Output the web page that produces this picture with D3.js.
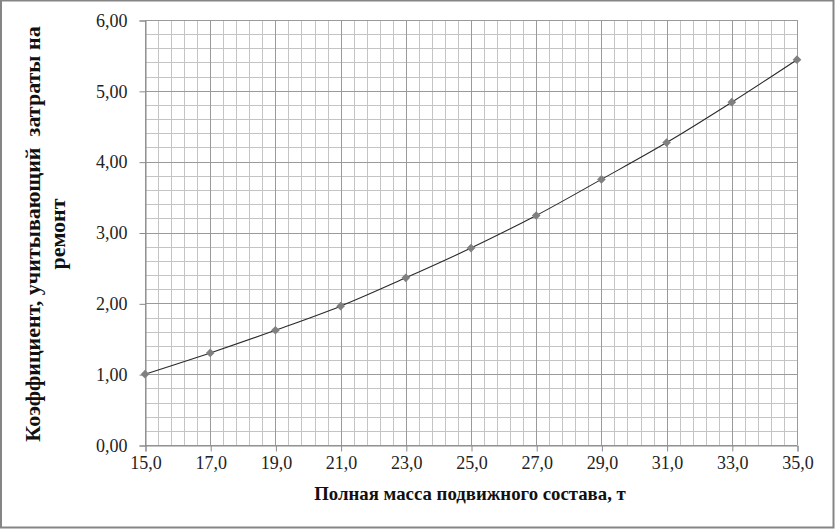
<!DOCTYPE html>
<html><head><meta charset="utf-8">
<script src="https://cdn.jsdelivr.net/npm/d3@7"></script>
<style>body{margin:0;background:#fff}svg{display:block}</style>
</head><body>
<svg id="c" width="835" height="529"></svg>
<script>
const masses = [15, 17, 19, 21, 23, 25, 27, 29, 31, 33, 35];
const coefficients = [1.00, 1.30, 1.62, 1.96, 2.36, 2.78, 3.24, 3.75, 4.27, 4.84, 5.44];
const xTickValues = [15, 17, 19, 21, 23, 25, 27, 29, 31, 33, 35];
const yTickValues = [0, 1, 2, 3, 4, 5, 6];
const xTitle = "Полная масса подвижного состава, т";
const yTitleLines = ["Коэффициент, учитывающий  затраты на", "ремонт"];

const FONT = '"Liberation Serif"';
const svg = d3.select("#c");
const L = 145, R = 797, T = 20, B = 445;
const x = d3.scaleLinear().domain([15, 35]).range([L, R]);
const y = d3.scaleLinear().domain([0, 6]).range([B, T]);
const fmtX = v => d3.format(".1f")(v).replace(".", ",");
const fmtY = v => d3.format(".2f")(v).replace(".", ",");

svg.append("rect").attr("x", 1).attr("y", 0.5).attr("width", 832.5).attr("height", 527)
  .attr("fill", "#fff").attr("stroke", "#858585").attr("stroke-width", 2);

const xMinor = d3.range(15, 35.001, 0.4);
const yMinor = d3.range(0, 6.001, 0.2);
const g = svg.append("g");
g.selectAll(".vx").data(xMinor).join("line")
  .attr("x1", d => Math.round(x(d)) + 0.5).attr("x2", d => Math.round(x(d)) + 0.5)
  .attr("y1", T).attr("y2", B).attr("stroke", "#c4c4c4").attr("stroke-width", 1);
g.selectAll(".hy").data(yMinor).join("line")
  .attr("y1", d => Math.round(y(d)) + 0.5).attr("y2", d => Math.round(y(d)) + 0.5)
  .attr("x1", L).attr("x2", R).attr("stroke", "#c4c4c4").attr("stroke-width", 1);
g.selectAll(".VX").data(xTickValues).join("line")
  .attr("x1", d => Math.round(x(d)) + 0.5).attr("x2", d => Math.round(x(d)) + 0.5)
  .attr("y1", T).attr("y2", B).attr("stroke", "#9a9a9a").attr("stroke-width", 1);
g.selectAll(".HY").data(yTickValues).join("line")
  .attr("y1", d => Math.round(y(d)) + 0.5).attr("y2", d => Math.round(y(d)) + 0.5)
  .attr("x1", L).attr("x2", R).attr("stroke", "#9a9a9a").attr("stroke-width", 1);

const xAxis = svg.append("g").attr("transform", `translate(0.5,${B + 0.5})`)
  .call(d3.axisBottom(x).tickValues(xTickValues).tickFormat(fmtX).tickSize(6).tickPadding(5));
const yAxis = svg.append("g").attr("transform", `translate(${L + 0.5},0.5)`)
  .call(d3.axisLeft(y).tickValues(yTickValues).tickFormat(fmtY).tickSize(6).tickPadding(12));
[xAxis, yAxis].forEach(a => {
  a.attr("font-family", null).attr("font-size", null);
  a.selectAll("path").attr("stroke", "#8a8a8a");
  a.selectAll("line").attr("stroke", "#8a8a8a");
  a.selectAll("text").style("font-family", FONT).style("font-size", "18px").attr("fill", "#222");
});

const pts = masses.map((m, i) => [m, coefficients[i]]);
svg.append("path").datum(pts)
  .attr("d", d3.line().x(d => x(d[0])).y(d => y(d[1])).curve(d3.curveCatmullRom))
  .attr("fill", "none").attr("stroke", "#2a2a2a").attr("stroke-width", 1.1);
svg.selectAll(".pt").data(pts).join("path")
  .attr("transform", d => `translate(${x(d[0])},${y(d[1])})`)
  .attr("d", d3.symbol(d3.symbolDiamond2, 48))
  .attr("fill", "#808080");

svg.append("text").attr("x", 470).attr("y", 500).attr("text-anchor", "middle")
  .style("font-family", FONT).style("font-weight", "bold").style("font-size", "18.8px")
  .attr("fill", "#111").text(xTitle);
const yt = svg.append("text").attr("transform", "translate(40,234) rotate(-90)")
  .attr("text-anchor", "middle")
  .style("font-family", FONT).style("font-weight", "bold").style("font-size", "22px")
  .attr("fill", "#111").style("white-space", "pre");
yTitleLines.forEach((t, i) => yt.append("tspan").attr("x", 0).attr("dy", i === 0 ? 0 : 25).text(t));
</script>
</body></html>
